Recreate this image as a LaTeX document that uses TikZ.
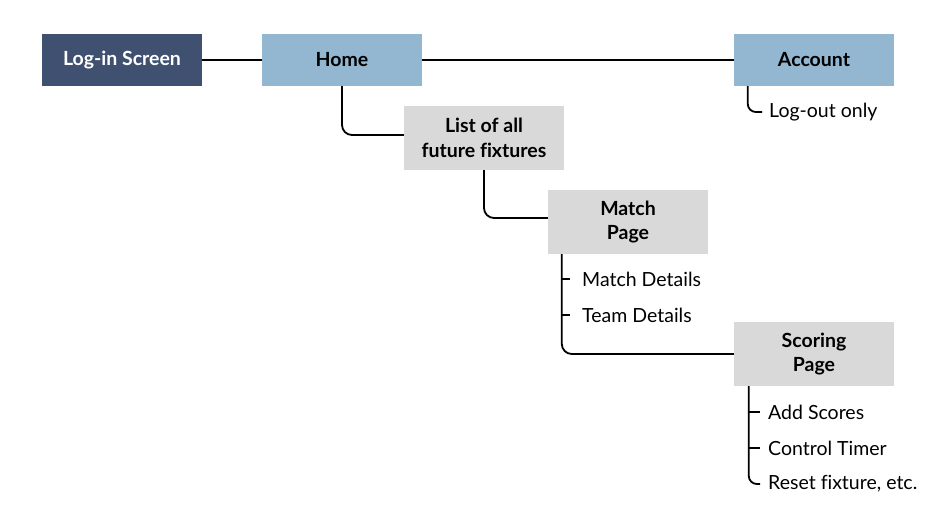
\documentclass[tikz,border=0pt]{standalone}
\usepackage{fontspec}
\setmainfont{Lato}[Ligatures=NoCommon]
\definecolor{navy}{HTML}{3F5070}
\definecolor{lblue}{HTML}{93B7D0}
\definecolor{lgray}{HTML}{D9D9D9}
\begin{document}
\begin{tikzpicture}[x=1pt,y=-1pt,
  box/.style={minimum width=160pt,inner sep=0pt,align=center,font=\fontsize{19.5}{24.5}\selectfont\bfseries},
  onebox/.style={box,minimum height=52pt},
  twobox/.style={box,minimum height=64pt,fill=lgray},
  leaf/.style={anchor=west,inner sep=0pt,font=\fontsize{19.5}{22}\selectfont},
  conn/.style={line width=1.8pt,black},
  branch/.style={conn,rounded corners=10pt}]
\useasboundingbox (0,0) rectangle (946,526);
\node[onebox,fill=navy,text=white] (login) at (122,60) {Log-in Screen};
\node[onebox,fill=lblue] (home) at (342,60) {Home};
\node[onebox,fill=lblue] (account) at (814,60) {Account};
\node[twobox] (list) at (484,138) {List of all\\future fixtures};
\node[twobox] (match) at (628,222) {Match\\Page};
\node[twobox] (score) at (814,354) {Scoring\\Page};
\node[leaf] (logout) at (769,112) {Log-out only};
\node[leaf] (md) at (582,279) {Match Details};
\node[leaf] (td) at (582,315) {Team Details};
\node[leaf] (as) at (768,412) {Add Scores};
\node[leaf] (ct) at (768,448) {Control Timer};
\node[leaf] (rf) at (768,484) {Reset fixture, etc.};
\draw[conn] (login.east) -- (home.west);
\draw[conn] (home.east) -- (account.west);
\draw[branch] (home.south) |- ([yshift=3pt]list.west);
\draw[branch] (list.south) |- ([yshift=4pt]match.west);
\draw[branch] ([xshift=14pt]match.south west) |- (score.west);
\draw[branch,rounded corners=8pt] ([xshift=14pt]account.south west) |- ([xshift=-7pt]logout.west);
\draw[branch,rounded corners=8pt] ([xshift=15pt]score.south west) |- ([xshift=-8pt]rf.west);
\draw[conn] ([xshift=-20pt]md.west) -- ([xshift=-12pt]md.west);
\draw[conn] ([xshift=-20pt]td.west) -- ([xshift=-12pt]td.west);
\draw[conn] ([xshift=-19pt]as.west) -- ([xshift=-8pt]as.west);
\draw[conn] ([xshift=-19pt]ct.west) -- ([xshift=-8pt]ct.west);
\end{tikzpicture}
\end{document}
